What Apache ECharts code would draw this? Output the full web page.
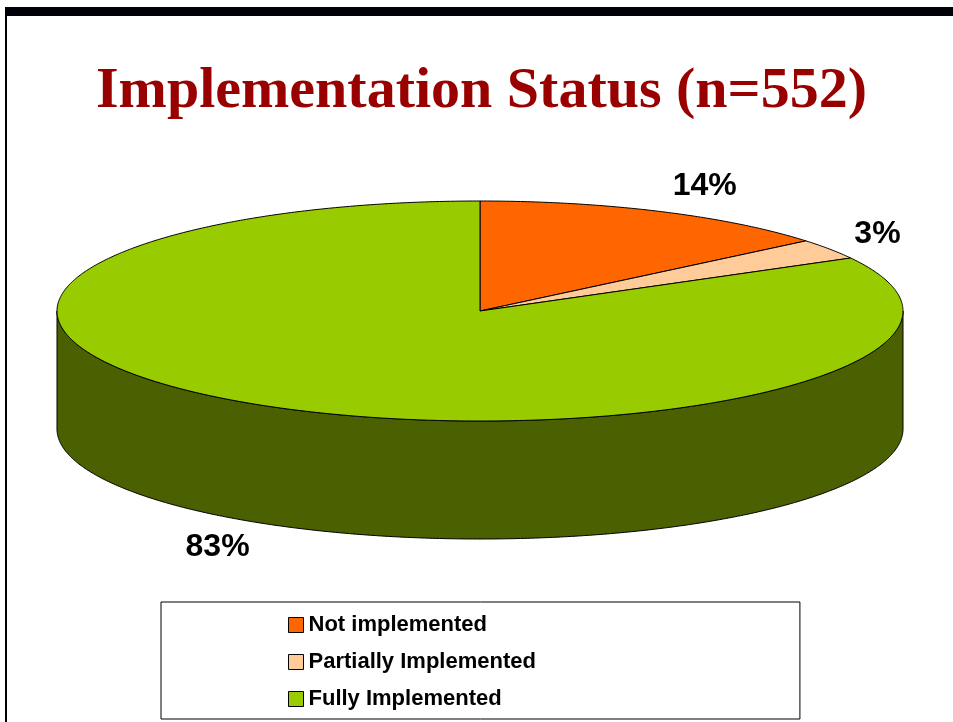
<!DOCTYPE html>
<html>
<head>
<meta charset="utf-8">
<script src="https://cdn.jsdelivr.net/npm/echarts@6/dist/echarts.min.js"></script>
<style>
  html, body { margin: 0; padding: 0; background: #fff; }
  #chart { width: 953px; height: 722px; }
</style>
</head>
<body>
<div id="chart"></div>
<script>
// data
const categories = ['Not implemented', 'Partially Implemented', 'Fully Implemented']
const shares = [14, 3, 83]
const shareLabels = ['14%', '3%', '83%']

const topColors = ['#FF6600', '#FFCC99', '#99CC00']
const sideColors = ['#A34100', '#B38F6B', '#4B6000']

// pie geometry (screen px)
const pie = { cx: 480, cy: 311, rx: 423, ry: 110, depth: 118 }

const total = shares.reduce((a, b) => a + b, 0)

function pt(theta, drop) {
  // theta in degrees clockwise from 12 o'clock
  const r = theta * Math.PI / 180
  return [pie.cx + pie.rx * Math.sin(r), pie.cy - pie.ry * Math.cos(r) + (drop || 0)]
}

function arc(a, b, drop) {
  const pts = []
  const n = Math.max(2, Math.ceil(Math.abs(b - a) / 0.5))
  for (let k = 0; k <= n; k++) pts.push(pt(a + (b - a) * k / n, drop))
  return pts
}

function makeSlice(i) {
  return function (params, api) {
    let before = 0
    for (let j = 0; j < i; j++) before += shares[j]
    const start = before / total * 360
    const end = start + api.value(0) / total * 360
    const color = api.visual('color')
    const children = []

    // visible side wall: front half, theta 90..270
    const s0 = Math.max(start, 90), s1 = Math.min(end, 270)
    if (s1 > s0) {
      const pts = arc(s0, s1, 0).concat(arc(s1, s0, pie.depth))
      children.push({
        type: 'polygon', z2: 1,
        shape: { points: pts },
        style: { fill: sideColors[i], stroke: '#000', lineWidth: 1 }
      })
    }

    // top face
    children.push({
      type: 'polygon', z2: 2,
      shape: { points: [[pie.cx, pie.cy]].concat(arc(start, end, 0)) },
      style: { fill: color, stroke: '#000', lineWidth: 1, lineJoin: 'round' }
    })

    // label, outside the rim at the slice middle
    const mid = (start + end) / 2 * Math.PI / 180
    const sx = Math.sin(mid), cy = Math.cos(mid)
    const lx = pie.cx + pie.rx * sx * 1.07
    const ly = pie.cy - pie.ry * cy * 1.25 + (cy < 0 ? pie.depth : 0)
    children.push({
      type: 'text', z2: 5,
      style: {
        x: lx, y: ly,
        text: shareLabels[i],
        fill: '#000',
        font: 'bold 32px "Liberation Sans", Arial, sans-serif',
        align: sx >= 0 ? 'left' : 'right',
        verticalAlign: 'middle'
      }
    })
    return { type: 'group', children: children }
  }
}

const chart = echarts.init(document.getElementById('chart'), null, { renderer: 'canvas' })

const option = {
  backgroundColor: '#fff',
  animation: false,
  title: {
    text: 'Implementation Status (n=552)',
    left: 91,
    top: 58,
    textStyle: {
      fontFamily: '"Liberation Serif", "DejaVu Serif", serif',
      fontWeight: 'bold',
      fontSize: 58,
      color: '#990000'
    }
  },
  legend: {
    orient: 'vertical',
    left: 161,
    top: 602,
    padding: [11, 264, 8, 127],
    borderColor: '#000',
    borderWidth: 1,
    backgroundColor: '#fff',
    itemWidth: 15,
    itemHeight: 15,
    itemGap: 13,
    icon: 'rect',
    itemStyle: { borderColor: '#000', borderWidth: 1 },
    textStyle: {
      fontFamily: '"Liberation Sans", Arial, sans-serif',
      fontWeight: 'bold',
      fontSize: 22,
      lineHeight: 24,
      color: '#000'
    },
    data: categories
  },
  graphic: [
    { type: 'rect', shape: { x: 5, y: 7, width: 948, height: 9 }, style: { fill: '#000008' } },
    { type: 'rect', shape: { x: 5, y: 7, width: 2, height: 715 }, style: { fill: '#000008' } }
  ],
  series: categories.map((name, i) => ({
    type: 'custom',
    name: name,
    coordinateSystem: 'none',
    itemStyle: { color: topColors[i] },
    renderItem: makeSlice(i),
    data: [[shares[i]]]
  }))
}

chart.setOption(option)
</script>
</body>
</html>
